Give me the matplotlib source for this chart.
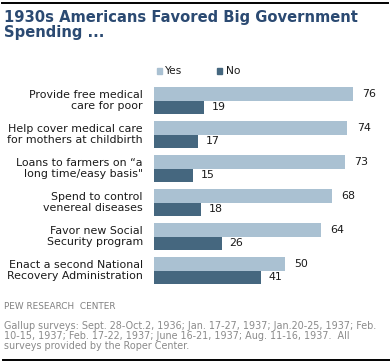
import numpy as np
import matplotlib
matplotlib.use("Agg")
import matplotlib.pyplot as plt
from matplotlib.patches import Rectangle
from matplotlib.lines import Line2D

# data
categories = [
    "Provide free medical\ncare for poor",
    "Help cover medical care\nfor mothers at childbirth",
    "Loans to farmers on \u201ca\nlong time/easy basis\"",
    "Spend to control\nvenereal diseases",
    "Favor new Social\nSecurity program",
    "Enact a second National\nRecovery Administration",
]
yes_vals = [76, 74, 73, 68, 64, 50]
no_vals = [19, 17, 15, 18, 26, 41]

YES_COLOR = "#aac1d2"
NO_COLOR = "#45677f"
TITLE_COLOR = "#2b4a72"

W, H = 390, 364
fig = plt.figure(figsize=(W / 100, H / 100), dpi=100)


def fx(px):
    return px / W


def fy(py):
    return 1 - py / H


# axes: 34 px per category, 2.614 px per percentage point
ax = fig.add_axes([fx(154), fy(287.7), 1 - fx(154), fy(83.7) - fy(287.7)])
y = np.arange(len(categories))
h = 0.392
ax.barh(y - h / 2, yes_vals, height=h, color=YES_COLOR)
ax.barh(y + h / 2, no_vals, height=h, color=NO_COLOR)
ax.set_xlim(0, (W - 154) / 2.614)
ax.set_ylim(len(categories) - 0.5, -0.5)
ax.axis("off")

lab_font = 7.9
for i, (yv, nv) in enumerate(zip(yes_vals, no_vals)):
    ax.annotate(str(yv), (yv, i - h / 2), xytext=(6.8, 0), textcoords="offset points",
                va="center", ha="left", fontsize=lab_font, color="#1a1a1a")
    ax.annotate(str(nv), (nv, i + h / 2), xytext=(5.5, 0), textcoords="offset points",
                va="center", ha="left", fontsize=lab_font, color="#1a1a1a")
    ax.annotate(categories[i], (0, i), xytext=(-8, 0), textcoords="offset points",
                va="center", ha="right", fontsize=lab_font, color="#1a1a1a",
                linespacing=1.12, annotation_clip=False)

# title
fig.text(fx(4), fy(25), "1930s Americans Favored Big Government\nSpending ...",
         fontsize=10.6, fontweight="bold", color=TITLE_COLOR, va="center", ha="left",
         linespacing=1.0)

# legend
fig.patches.append(Rectangle((fx(157), fy(74)), fx(5), fy(68) - fy(74),
                             transform=fig.transFigure, color=YES_COLOR))
fig.text(fx(165), fy(71), "Yes", fontsize=7.7, color="#1a1a1a", va="center")
fig.patches.append(Rectangle((fx(217), fy(74)), fx(5), fy(68) - fy(74),
                             transform=fig.transFigure, color=NO_COLOR))
fig.text(fx(226), fy(71), "No", fontsize=7.7, color="#1a1a1a", va="center")

# footer
fig.text(fx(4), fy(306.7), "PEW RESEARCH  CENTER", fontsize=6.4, color="#808080",
         va="center")
fig.text(fx(4), fy(336),
         "Gallup surveys: Sept. 28-Oct.2, 1936; Jan. 17-27, 1937; Jan.20-25, 1937; Feb.\n"
         "10-15, 1937; Feb. 17-22, 1937; June 16-21, 1937; Aug. 11-16, 1937.  All\n"
         "surveys provided by the Roper Center.",
         fontsize=6.95, color="#8a8a8a", va="center", linespacing=1.06)

# rules
fig.add_artist(Line2D([fx(2), fx(388)], [fy(2.5), fy(2.5)], color="black", lw=1.4))
fig.add_artist(Line2D([fx(3), fx(390)], [fy(359.7), fy(359.7)], color="black", lw=1.4))

fig.savefig("out.png", dpi=100)
